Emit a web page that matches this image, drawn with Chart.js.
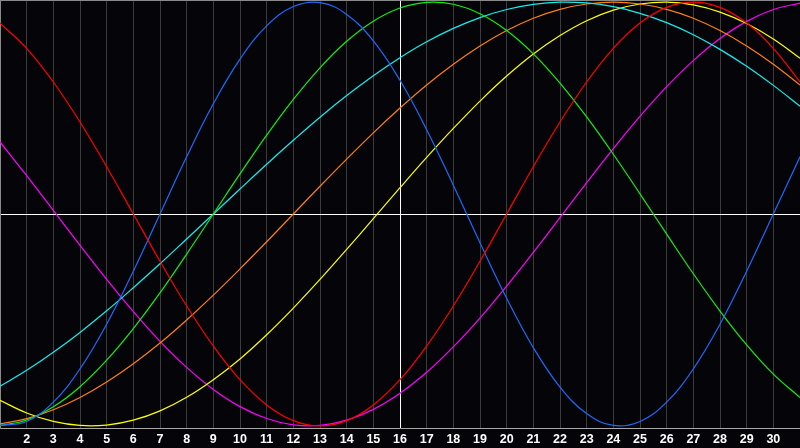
<!DOCTYPE html>
<html>
<head>
<meta charset="utf-8">
<script src="https://cdn.jsdelivr.net/npm/chart.js@4"></script>
<style>
  html, body { margin: 0; padding: 0; background: #050409; }
  #contenedor { width: 800px; height: 448px; }
</style>
</head>
<body>
<div id="contenedor"><canvas id="grafico" width="800" height="448"></canvas></div>
<script>
// Etiquetas del eje X (día del mes; el primero y el último van sin texto)
const etiquetasDias = ['', '2', '3', '4', '5', '6', '7', '8', '9', '10', '11', '12', '13', '14', '15', '16',
                       '17', '18', '19', '20', '21', '22', '23', '24', '25', '26', '27', '28', '29', '30', ''];

// Valores (en %, de -100 a 100), uno por día
const fisico     = [-99.8, -97.9, -88.8, -73.1, -52.0, -27.0, 0, 27.0, 52.0, 73.1, 88.8, 97.9, 99.8, 94.2, 81.7, 63.1,
                    39.8, 13.6, -13.6, -39.8, -63.1, -81.7, -94.2, -99.8, -97.9, -88.8, -73.1, -52.0, -27.0, 0, 27.0];
const emocional  = [90.1, 78.2, 62.3, 43.4, 22.3, 0, -22.3, -43.4, -62.3, -78.2, -90.1, -97.5, -100, -97.5, -90.1, -78.2,
                    -62.3, -43.4, -22.3, 0, 22.3, 43.4, 62.3, 78.2, 90.1, 97.5, 100, 97.5, 90.1, 78.2, 62.3];
const intelecto  = [-99.9, -97.2, -91.0, -81.5, -69.0, -54.1, -37.2, -18.9, 0, 18.9, 37.2, 54.1, 69.0, 81.5, 91.0, 97.2,
                    99.9, 99.0, 94.5, 86.6, 75.6, 61.8, 45.8, 28.2, 9.5, -9.5, -28.2, -45.8, -61.8, -75.6, -86.6];
const espiritual = [-81.3, -73.8, -65.3, -55.9, -45.7, -34.8, -23.5, -11.8, 0, 11.8, 23.5, 34.8, 45.7, 55.9, 65.3, 73.8,
                    81.3, 87.6, 92.7, 96.5, 98.9, 100.0, 99.6, 97.9, 94.7, 90.3, 84.6, 77.7, 69.7, 60.7, 50.9];
const conciencia = [-99.1, -96.6, -92.4, -86.6, -79.3, -70.7, -60.9, -50.0, -38.3, -25.9, -13.1, 0, 13.1, 25.9, 38.3, 50.0,
                    60.9, 70.7, 79.3, 86.6, 92.4, 96.6, 99.1, 100, 99.1, 96.6, 92.4, 86.6, 79.3, 70.7, 60.9];
const estetica   = [-87.9, -93.9, -97.9, -99.8, -99.6, -97.3, -92.9, -86.5, -78.2, -68.4, -57.0, -44.4, -30.9, -16.7, -2.2, 12.4,
                    26.7, 40.4, 53.3, 65.1, 75.5, 84.2, 91.2, 96.2, 99.1, 100.0, 98.7, 95.3, 89.9, 82.6, 73.5];
const intuicion  = [34.0, 18.1, 1.7, -14.8, -30.9, -46.1, -60.1, -72.4, -82.8, -90.9, -96.5, -99.5, -99.8, -97.3, -92.2, -84.6,
                    -74.7, -62.7, -49.1, -34.0, -18.1, -1.7, 14.8, 30.9, 46.1, 60.1, 72.4, 82.8, 90.9, 96.5, 99.5];

// Crear una serie de línea con su color
function serie(datos, color) {
    return {
        data: datos,
        borderColor: color,
        borderWidth: 1.2,
        pointRadius: 0,
        tension: 0.4,
        fill: false
    };
}

const ctx = document.getElementById('grafico').getContext('2d');
new Chart(ctx, {
    type: 'line',
    data: {
        labels: etiquetasDias,
        datasets: [
            serie(emocional,  '#ff0000'),
            serie(fisico,     '#1a6cff'),
            serie(intelecto,  '#10f010'),
            serie(espiritual, '#10f0f0'),
            serie(conciencia, '#ff8010'),
            serie(estetica,   '#ffff00'),
            serie(intuicion,  '#ff00ff')
        ]
    },
    options: {
        responsive: false,
        animation: false,
        layout: { padding: 0 },
        plugins: {
            legend:  { display: false },
            tooltip: { enabled: false }
        },
        scales: {
            x: {
                grid: {
                    color: c => c.index === 15 ? '#ffffff' : '#3c3c3c',
                    drawTicks: false
                },
                border: { display: true, color: '#a8a8a8' },
                ticks: {
                    color: '#ffffff',
                    font: { family: 'Liberation Sans', weight: 'bold', size: 12.5 },
                    padding: 4,
                    maxRotation: 0,
                    autoSkip: false
                },
                // Sin margen lateral: el día 1 en x=0 y el 31 en el borde derecho
                afterFit: s => { s.height = 20; s.paddingLeft = 0; s.paddingRight = 0; }
            },
            y: {
                min: -101,
                max: 101,
                afterBuildTicks: s => { s.ticks = [{ value: -101 }, { value: 0 }, { value: 101 }]; },
                afterFit: s => { s.width = 0; s.paddingTop = 0; s.paddingBottom = 0; },
                grid: {
                    color: c => c.tick.value === 0 ? '#ffffff' : (c.tick.value === 101 ? '#8a8a8a' : 'rgba(0,0,0,0)'),
                    drawTicks: false
                },
                border: { display: true, color: '#8a8a8a' },
                ticks: { display: false }
            }
        }
    }
});
</script>
</body>
</html>
